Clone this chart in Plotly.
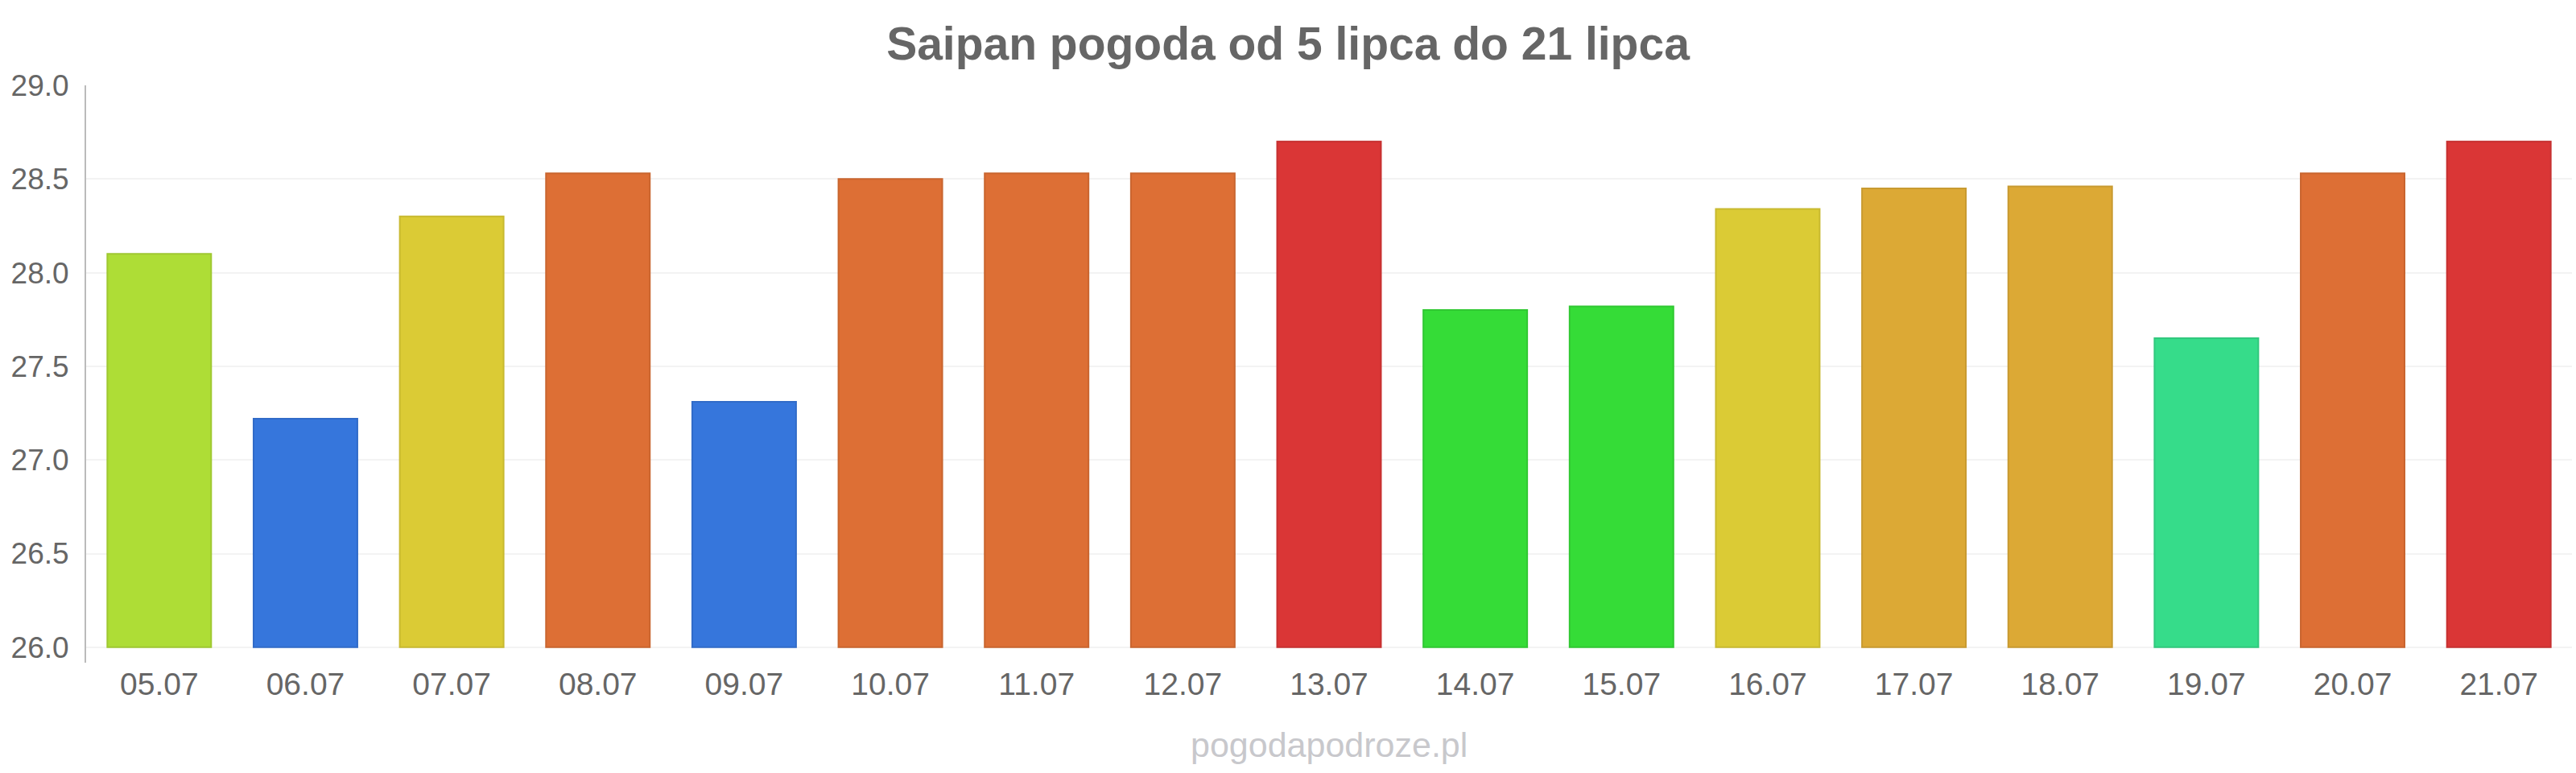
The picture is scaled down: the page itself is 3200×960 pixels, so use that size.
import plotly.graph_objects as go

dates = ["05.07", "06.07", "07.07", "08.07", "09.07", "10.07", "11.07", "12.07", "13.07",
         "14.07", "15.07", "16.07", "17.07", "18.07", "19.07", "20.07", "21.07"]
temps = [28.1, 27.22, 28.3, 28.53, 27.31, 28.5, 28.53, 28.53, 28.7,
         27.8, 27.82, 28.34, 28.45, 28.46, 27.65, 28.53, 28.7]
fill_colors = ["#aedd36", "#3676dc", "#dbcb35", "#dd6f35", "#3676dc", "#dd6f35", "#dd6f35", "#dd6f35", "#da3636",
               "#35dc37", "#35dc37", "#dbcb35", "#dca935", "#dca935", "#36dc8a", "#dd6f35", "#da3636"]
line_colors = ["#9fc831", "#316bc8", "#c8b930", "#c9652f", "#316bc8", "#c9652f", "#c9652f", "#c9652f", "#c63131",
               "#30c832", "#30c832", "#c8b930", "#c89a30", "#c89a30", "#31c87d", "#c9652f", "#c63131"]
y_min = 26.0
y_max = 29.0
y_ticks = [26.0, 26.5, 27.0, 27.5, 28.0, 28.5, 29.0]
title = "Saipan pogoda od 5 lipca do 21 lipca"
watermark = "pogodapodroze.pl"

W, H = 3200, 960
m_l, m_r, m_t, m_b = 107, 5, 106, 137
plot_h = H - m_t - m_b
px_per_unit = 232.6
range_bottom = y_max - plot_h / px_per_unit

fig = go.Figure()
fig.add_trace(go.Bar(
    x=dates,
    y=[t - y_min for t in temps],
    base=y_min,
    marker=dict(color=fill_colors, line=dict(color=line_colors, width=2)),
    hovertext=[f"{t:.1f}" for t in temps],
    hoverinfo="x+text",
))

fig.update_layout(
    width=W, height=H,
    margin=dict(l=m_l, r=m_r, t=m_t, b=m_b),
    paper_bgcolor="white", plot_bgcolor="white",
    bargap=0.29,
    showlegend=False,
    font=dict(family="Liberation Sans, Arial, sans-serif", color="#666666"),
    title=dict(text=title, x=0.5, xref="container", xanchor="center",
               y=1 - 54 / H, yref="container", yanchor="middle",
               font=dict(size=57, color="#666666", family="Liberation Sans, Arial, sans-serif", weight="bold")),
    xaxis=dict(type="category", showgrid=False, showline=False, zeroline=False,
               ticks="", tickfont=dict(size=39, color="#666666")),
    yaxis=dict(range=[range_bottom, y_max], tickvals=y_ticks,
               ticktext=[f"{v:.1f}" for v in y_ticks],
               showgrid=True, gridcolor="#f3f3f3", gridwidth=2,
               showline=True, linecolor="#bbbbbb", linewidth=2,
               zeroline=False, ticks="", ticklabelstandoff=12,
               tickfont=dict(size=37, color="#666666")),
    annotations=[dict(text=watermark, x=0.5, xref="paper", y=-(925 - (H - m_b)) / plot_h,
                      yref="paper", xanchor="center", yanchor="middle", showarrow=False,
                      font=dict(size=43, color="#c8c8cc"))],
)

fig.write_html("out.html")
